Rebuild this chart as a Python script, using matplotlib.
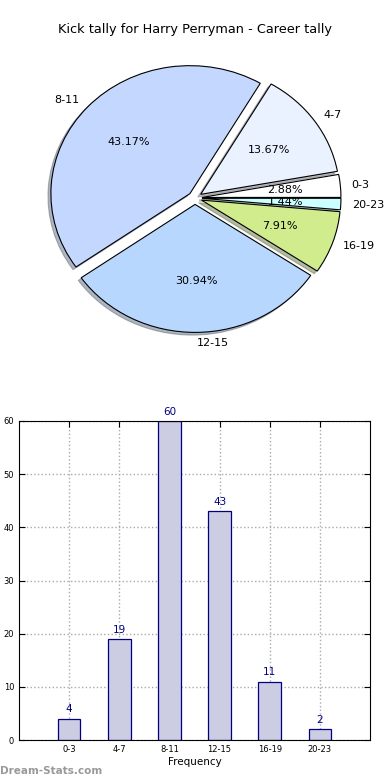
import matplotlib
matplotlib.use("Agg")
import matplotlib.pyplot as plt

categories = ["0-3", "4-7", "8-11", "12-15", "16-19", "20-23"]
values = [4, 19, 60, 43, 11, 2]
pie_colors = ["#ffffff", "#eaf1ff", "#c4d8ff", "#b7d7ff", "#d0ec8c", "#ccffff"]
title = "Kick tally for Harry Perryman - Career tally"
yticks = [0, 10, 20, 30, 40, 50, 60]

W, H = 390, 780
fig = plt.figure(figsize=(W / 100, H / 100), dpi=100)

# Pie axes
rx, ry = 139, 128
cx, cy = 195, 198
lim = 1.3
aw, ah = rx * 2 * lim, ry * 2 * lim
axp = fig.add_axes([(cx - aw / 2) / W, (H - cy - ah / 2) / H, aw / W, ah / H])
wedges, texts, autotexts = axp.pie(
    values, labels=categories, colors=pie_colors, explode=[0.05] * len(values),
    autopct="%.2f%%", shadow=dict(ox=-0.015, oy=-0.015, shade=0.5), startangle=0,
    labeldistance=1.08, pctdistance=0.6,
    wedgeprops=dict(edgecolor="black", linewidth=0.8),
    textprops=dict(fontsize=8))
axp.set_aspect("auto")
axp.set_xlim(-lim, lim)
axp.set_ylim(-lim, lim)
axp.axis("off")
fig.text(0.5, 1 - 30 / H, title, ha="center", va="center", fontsize=9.3)

# Bar axes
axb = fig.add_axes([19 / W, 40 / H, 351 / W, 319 / H])
x = list(range(len(categories)))
bars = axb.bar(x, values, width=0.45, color="#ccccE3", edgecolor="#000080", linewidth=0.9, zorder=2)
for xi, v in zip(x, values):
    axb.text(xi, v + 0.8, str(v), ha="center", va="bottom", fontsize=7.5, color="#000080")
axb.set_xlim(-1, 6)
axb.set_ylim(0, 60)
axb.set_xticks(x)
axb.set_xticklabels(categories)
axb.set_yticks(yticks)
axb.tick_params(direction="in", top=True, right=True, labelsize=6, length=4)
axb.grid(True, linestyle=":", color="#aaaaaa", linewidth=1, zorder=0)
axb.set_axisbelow(True)
axb.set_xlabel("Frequency", fontsize=7.5, labelpad=2)

fig.text(0.0, 1 - 771 / H, "Dream-Stats.com", ha="left", va="center", fontsize=7.5,
         color="#999999", fontweight="bold")

fig.savefig("out.png", dpi=100)
